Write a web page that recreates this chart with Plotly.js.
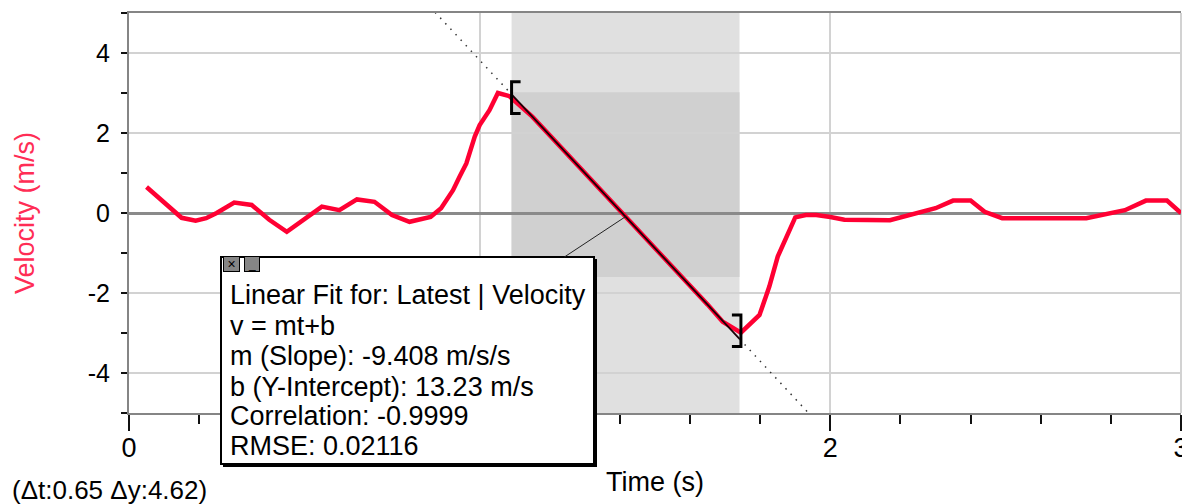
<!DOCTYPE html>
<html><head><meta charset="utf-8">
<script src="https://cdn.plot.ly/plotly-3.0.1.min.js"></script>
<style>html,body{margin:0;padding:0;background:#fff;}#chart{width:1182px;height:504px;}</style>
</head><body><div id="chart"></div>
<script>
// ---- data ----
const time = [0.05, 0.10, 0.15, 0.19, 0.22, 0.25, 0.30, 0.35, 0.40, 0.45, 0.50, 0.55, 0.60, 0.65, 0.70, 0.75, 0.80, 0.86, 0.89, 0.924, 0.943, 0.962, 0.986, 1.00, 1.028, 1.052, 1.085, 1.15, 1.20, 1.25, 1.30, 1.35, 1.40, 1.45, 1.50, 1.55, 1.60, 1.65, 1.693, 1.722, 1.745, 1.798, 1.826, 1.85, 1.874, 1.90, 1.93, 1.96, 2.00, 2.04, 2.17, 2.21, 2.25, 2.30, 2.35, 2.40, 2.44, 2.49, 2.73, 2.78, 2.84, 2.90, 2.96, 3.00];
const velocity = [0.65, 0.27, -0.12, -0.19, -0.13, 0.00, 0.26, 0.20, -0.17, -0.47, -0.17, 0.16, 0.07, 0.34, 0.28, -0.05, -0.22, -0.10, 0.12, 0.57, 0.91, 1.24, 1.91, 2.20, 2.57, 3.00, 2.92, 2.41, 1.94, 1.47, 1.00, 0.53, 0.06, -0.41, -0.88, -1.35, -1.80, -2.29, -2.72, -2.88, -2.99, -2.55, -1.84, -1.09, -0.59, -0.11, -0.05, -0.05, -0.10, -0.17, -0.18, -0.09, -0.01, 0.12, 0.31, 0.31, 0.03, -0.13, -0.13, -0.05, 0.07, 0.31, 0.31, 0.00];
const fitSlope = -9.408;
const fitIntercept = 13.23;
const regionStart = 1.091;
const regionEnd = 1.741;
const regionVLow = -1.60;
const regionVHigh = 3.02;
const fitText = ["Linear Fit for: Latest | Velocity", "v = mt+b", "m (Slope): -9.408 m/s/s", "b (Y-Intercept): 13.23 m/s", "Correlation: -0.9999", "RMSE: 0.02116"];
const deltaText = "(Δt:0.65 Δy:4.62)";
const xTickVals = [0, 1, 2, 3];
const xTickText = ["0", "1", "2", "3"];
const yTickVals = [-4, -2, 0, 2, 4];
const yTickText = ["-4", "-2", "0", "2", "4"];

// ---- layout geometry ----
const W = 1182, H = 504, ML = 129, MR = 1, MT = 13, MB = 91;
const PW = W - ML - MR, PH = H - MT - MB;
const px = x => (x - ML) / PW;
const py = y => (H - MB - y) / PH;
const FONT = "Liberation Sans, Arial, sans-serif";
const fit = t => fitSlope * t + fitIntercept;
const X_RANGE = [0, 3], Y_RANGE = [-5, 5];
const toPxX = t => ML + (t - X_RANGE[0]) / (X_RANGE[1] - X_RANGE[0]) * PW;
const toPxY = v => MT + (Y_RANGE[1] - v) / (Y_RANGE[1] - Y_RANGE[0]) * PH;

const tipT = (regionStart + regionEnd) / 2;
const boxL = 220, boxR = 595, boxT = 256, boxB = 465;
const boxCx = (boxL + boxR) / 2, boxCy = (boxT + boxB) / 2;

const traces = [
  {x: time, y: velocity, mode: "lines", line: {color: "#ff0033", width: 4.5}, hoverinfo: "skip"},
  {x: [0.8, regionStart], y: [fit(0.8), fit(regionStart)], mode: "lines", line: {color: "#333", width: 1.5, dash: "1.5px,6px"}},
  {x: [regionEnd, 2.0], y: [fit(regionEnd), fit(2.0)], mode: "lines", line: {color: "#333", width: 1.5, dash: "1.5px,6px"}},
  {x: [regionStart, regionEnd], y: [fit(regionStart), fit(regionEnd)], mode: "lines", line: {color: "#1a0006", width: 1.8}}
];

const bw = 9 / (PW / 3); // bracket arm in data units
const shapes = [
  {type: "rect", xref: "x", yref: "paper", x0: regionStart, x1: regionEnd, y0: 0, y1: 1, fillcolor: "#e0e0e0", line: {width: 0}, layer: "below"},
  {type: "rect", xref: "x", yref: "y", x0: regionStart, x1: regionEnd, y0: regionVLow, y1: regionVHigh, fillcolor: "#d0d0d0", line: {width: 0}, layer: "below"},
  {type: "line", xref: "paper", yref: "paper", x0: 1, x1: 1, y0: 0, y1: 1, line: {color: "#d2d2d2", width: 2}, layer: "below"},
  {type: "path", xref: "x", yref: "y", layer: "above", line: {color: "#000", width: 3},
   path: `M ${regionStart + bw} 3.28 L ${regionStart} 3.28 L ${regionStart} 2.49 L ${regionStart + bw} 2.49`},
  {type: "path", xref: "x", yref: "y", layer: "above", line: {color: "#000", width: 3},
   path: `M ${1.745 - bw} -2.55 L 1.745 -2.55 L 1.745 -3.34 L ${1.745 - bw} -3.34`},
  {type: "rect", xref: "paper", yref: "paper", x0: px(boxL + 3), x1: px(boxR + 2), y0: py(boxB + 2), y1: py(boxT + 3), fillcolor: "#000", line: {width: 0}, layer: "above"}
];

const textMids = [295, 325.5, 356, 386.5, 416, 446];
const annotations = [
  {xref: "x", yref: "y", x: tipT, y: fit(tipT), showarrow: true, arrowhead: 0, arrowwidth: 1, arrowcolor: "#222",
   ax: boxCx - toPxX(tipT), ay: boxCy - toPxY(fit(tipT)), text: " ", width: boxR - boxL - 4, height: boxB - boxT - 4,
   bgcolor: "#fff", bordercolor: "#000", borderwidth: 2, borderpad: 0, font: {size: 10}}
];
fitText.forEach((s, i) => annotations.push({xref: "paper", yref: "paper", x: px(228), y: py(textMids[i]), xanchor: "left", yanchor: "middle",
  showarrow: false, text: s, font: {family: FONT, size: 27, color: "#000"}}));
annotations.push({xref: "paper", yref: "paper", x: px(231), y: py(263.5), xanchor: "center", yanchor: "middle", showarrow: false, text: "×", width: 15, height: 14,
  bgcolor: "#858585", bordercolor: "#000", borderwidth: 1, borderpad: 0, font: {family: FONT, size: 14, color: "#000"}});
annotations.push({xref: "paper", yref: "paper", x: px(252), y: py(263.5), xanchor: "center", yanchor: "middle", showarrow: false, text: "_", width: 14, height: 14,
  bgcolor: "#858585", bordercolor: "#000", borderwidth: 1, borderpad: 0, font: {family: FONT, size: 12, color: "#000"}});
annotations.push({xref: "paper", yref: "paper", x: px(10), y: py(490), xanchor: "left", yanchor: "middle", showarrow: false,
  text: deltaText, font: {family: FONT, size: 26, color: "#000"}});

const layout = {
  width: W, height: H, margin: {l: ML, r: MR, t: MT, b: MB, pad: 0},
  paper_bgcolor: "#fff", plot_bgcolor: "#fff", showlegend: false,
  font: {family: FONT, color: "#000"},
  xaxis: {range: X_RANGE, tickmode: "array", tickvals: xTickVals, ticktext: xTickText, ticks: "outside", ticklen: 16, tickwidth: 2, tickcolor: "#111",
    showgrid: true, gridcolor: "#d2d2d2", gridwidth: 2, zeroline: false, showline: true, linecolor: "#858585", linewidth: 2, mirror: true,
    tickfont: {family: FONT, size: 27, color: "#000"}, ticklabeloverflow: "allow", ticklabelstandoff: -6,
    minor: {dtick: 0.2, tick0: 0, ticks: "outside", ticklen: 9, tickwidth: 2, tickcolor: "#111", showgrid: false},
    title: {text: "Time (s)", font: {family: FONT, size: 27, color: "#000"}, standoff: 10}},
  yaxis: {range: Y_RANGE, tickmode: "array", tickvals: yTickVals, ticktext: yTickText, ticks: "outside", ticklen: 6, tickwidth: 2, tickcolor: "#111",
    showgrid: true, gridcolor: "#d2d2d2", gridwidth: 2, zeroline: true, zerolinecolor: "#8a8a8a", zerolinewidth: 3,
    showline: true, linecolor: "#858585", linewidth: 2, tickfont: {family: FONT, size: 25, color: "#000"}, ticklabelstandoff: 6,
    minor: {dtick: 1, tick0: 1, ticks: "outside", ticklen: 6, tickwidth: 2, tickcolor: "#111", showgrid: false},
    title: {text: "Velocity (m/s)", font: {family: FONT, size: 27, color: "#ff2d55"}, standoff: 45}},
  shapes: shapes, annotations: annotations
};
Plotly.newPlot("chart", traces, layout, {displayModeBar: false, staticPlot: true});
</script></body></html>
